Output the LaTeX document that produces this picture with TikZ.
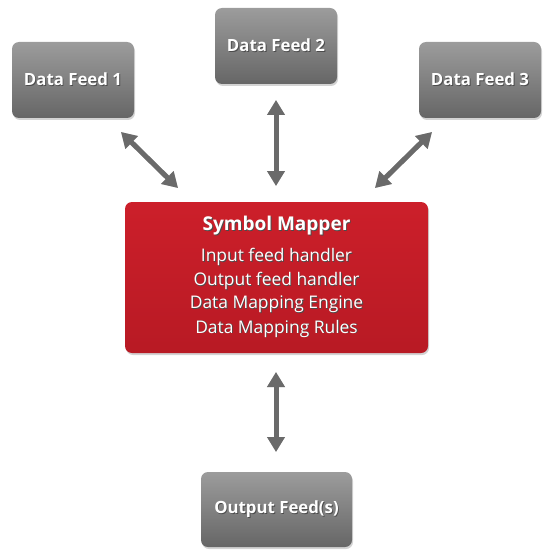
\documentclass[tikz,border=0pt]{standalone}
\usepackage{fontspec}
\setmainfont{Open Sans}
\usetikzlibrary{shadows,arrows.meta}
\definecolor{gtop}{HTML}{9C9C9C}
\definecolor{gbot}{HTML}{666666}
\definecolor{rtop}{HTML}{CC1F2A}
\definecolor{rbot}{HTML}{B81A24}
\definecolor{arr}{HTML}{6A6A6A}
\newcommand\shtxt[1]{\leavevmode\rlap{\kern0.9pt\raisebox{-0.9pt}{\textcolor{black!70}{#1}}}#1}
\tikzset{
  feedbox/.style={rectangle, rounded corners=7pt, top color=gtop, bottom color=gbot, draw=none,
    drop shadow={shadow xshift=1pt, shadow yshift=-2pt, opacity=0.35}},
  mapbox/.style={rectangle, rounded corners=7pt, top color=rtop, bottom color=rbot, draw=none,
    drop shadow={shadow xshift=1pt, shadow yshift=-2pt, opacity=0.35}},
  lbl/.style={text=white, font=\fontsize{16.8}{19}\selectfont\bfseries, inner sep=0pt},
  mlbl/.style={text=white, font=\fontsize{17.4}{20}\selectfont, inner sep=0pt},
  dblarrow/.style={draw=arr, line width=5pt, {Triangle[length=15pt,width=17pt]}-{Triangle[length=15pt,width=17pt]}},
  arrshadow/.style={draw=black, opacity=0.2, line width=5pt, {Triangle[length=15pt,width=17pt]}-{Triangle[length=15pt,width=17pt]}},
}
\begin{document}
\begin{tikzpicture}[x=1pt,y=-1pt]
\useasboundingbox (0,0) rectangle (550,559);
% boxes
\node[feedbox, minimum width=122pt, minimum height=76pt] (df1) at (73,80) {};
\node[feedbox, minimum width=122pt, minimum height=76pt] (df2) at (276,46) {};
\node[feedbox, minimum width=122pt, minimum height=76pt] (df3) at (480,80) {};
\node[mapbox, minimum width=303pt, minimum height=151pt] (sm) at (276.5,277.5) {};
\node[feedbox, minimum width=151pt, minimum height=75pt] (out) at (276.5,509.5) {};
% labels
\node[lbl] (t1) at (df1.center) {\shtxt{Data Feed 1}};
\node[lbl] (t2) at (df2.center) {\shtxt{Data Feed 2}};
\node[lbl] (t3) at (df3.center) {\shtxt{Data Feed 3}};
\node[lbl] (t4) at (out.center) {\shtxt{Output Feed(s)}};
\node[lbl, font=\fontsize{19}{22}\selectfont\bfseries] (s0) at (276.5,226) {\shtxt{Symbol Mapper}};
\node[mlbl] (s1) at (276.5,257) {\shtxt{Input feed handler}};
\node[mlbl] (s2) at (276.5,281) {\shtxt{Output feed handler}};
\node[mlbl] (s3) at (276.5,305) {\shtxt{Data Mapping Engine}};
\node[mlbl] (s4) at (276.5,329) {\shtxt{Data Mapping Rules}};
% arrow end points
\coordinate (a1s) at (121,132); \coordinate (a1e) at (178,188);
\coordinate (a2s) at (276,100); \coordinate (a2e) at (276,186);
\coordinate (a3s) at (432,132); \coordinate (a3e) at (375,188);
\coordinate (a4s) at (276,372); \coordinate (a4e) at (276,452);
% shadows
\begin{scope}[shift={(1.5,2)}]
\draw[arrshadow] (a1s) -- (a1e);
\draw[arrshadow] (a2s) -- (a2e);
\draw[arrshadow] (a3s) -- (a3e);
\draw[arrshadow] (a4s) -- (a4e);
\end{scope}
\draw[dblarrow] (a1s) -- (a1e);
\draw[dblarrow] (a2s) -- (a2e);
\draw[dblarrow] (a3s) -- (a3e);
\draw[dblarrow] (a4s) -- (a4e);
\end{tikzpicture}
\end{document}
